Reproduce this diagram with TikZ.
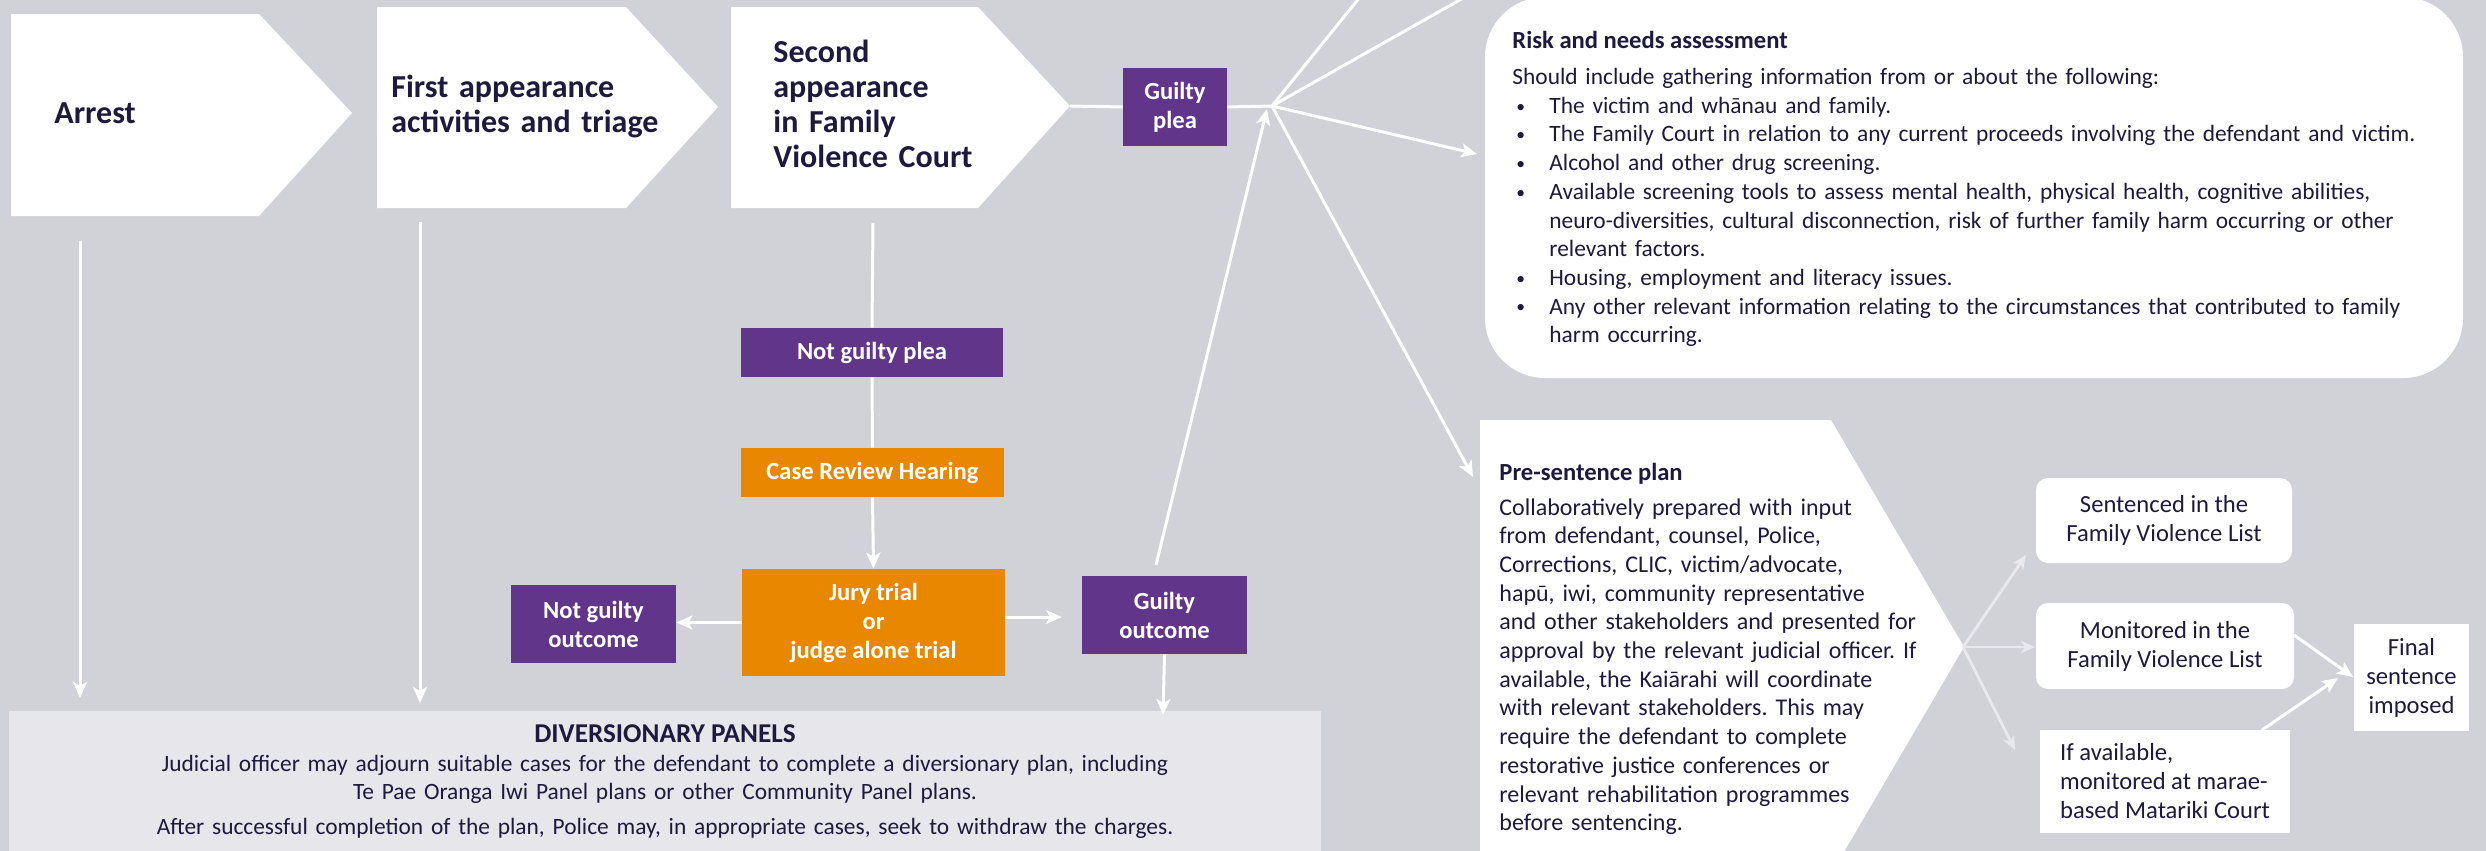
\documentclass[tikz,border=0pt]{standalone}
\usepackage{fontspec}
\setmainfont{Carlito}
\frenchspacing
\usetikzlibrary{arrows.meta}
\definecolor{bgc}{HTML}{D1D2D8}
\definecolor{ink}{HTML}{1E1A3C}
\definecolor{fvpurple}{HTML}{61358A}
\definecolor{fvorange}{HTML}{E98800}
\definecolor{panelc}{HTML}{E6E6EB}
\definecolor{fanc}{HTML}{E9E9ED}
\newcommand{\fsbody}{\fontsize{12pt}{14.35pt}\selectfont}
\newcommand{\fssmall}{\fontsize{11.7pt}{14.35pt}\selectfont}
\newcommand{\fsbox}{\fontsize{12.3pt}{14.5pt}\selectfont}
\newcommand{\fschev}{\fontsize{16pt}{17.5pt}\selectfont\bfseries}
\newcommand{\rbul}{\hspace*{2pt}\makebox[16.5pt][l]{\raisebox{0.6pt}{\scalebox{0.75}{\textbullet}}}}
\newcommand{\rind}{\hspace*{18.5pt}}
\begin{document}
\begin{tikzpicture}[x=0.5pt,y=-0.5pt,
  wline/.style={draw=white, line width=1.5pt},
  warrow/.style={wline, -{Stealth[length=8pt,width=7pt,inset=2pt]}},
  fanarrow/.style={draw=fanc, line width=1.4pt, -{Stealth[length=7pt,width=6pt,inset=2pt]}},
  chev/.style={fill=white},
  chevtext/.style={anchor=base west, inner sep=0pt, text width=150pt, align=left, text=ink, font=\fschev},
  pbox/.style={fill=fvpurple, text=white, font=\fsbox\bfseries, align=center, inner sep=0pt},
  obox/.style={fill=fvorange, text=white, font=\fsbox\bfseries, align=center, inner sep=0pt},
  wbox/.style={fill=white, text=ink, font=\fsbox, align=center, inner sep=0pt},
  bodytext/.style={inner sep=0pt, text=ink, font=\fsbody, align=left, anchor=base west},
]
\useasboundingbox (0,0) rectangle (2486,851);
\clip (0,0) rectangle (2486,851);
\fill[bgc] (0,0) rectangle (2486,851);

% chevrons
\fill[chev] (11,14) -- (259,14) -- (352,113) -- (259,216) -- (11,216) -- cycle;
\fill[chev] (377,7) -- (626,7) -- (718,107) -- (626,208) -- (377,208) -- cycle;
\fill[chev] (731,7) -- (978,7) -- (1070,106) -- (978,208) -- (731,208) -- cycle;
\node[chevtext] (arrest) at (54,123) {Arrest};
\node[chevtext] (first) at (391,97) {First appearance\\activities and triage};
\node[chevtext] (second) at (773,62) {Second\\appearance\\in Family\\Violence Court};
\coordinate (sectip) at (1070,106);
\coordinate (arrestbot) at (80,241);
\coordinate (firstbot) at (420,222);
\coordinate (secbot) at (873,223);

% diversion panel
\fill[panelc] (9,711) rectangle (1321,880);
\node[anchor=base, inner sep=0pt, text=ink, font=\fontsize{13.6pt}{14pt}\selectfont\bfseries] (divtitle) at (665,742) {DIVERSIONARY PANELS};
\node[anchor=base, inner sep=0pt, text=ink, font=\fssmall, text width=600pt, align=center] (divtext) at (665,771)
  {Judicial officer may adjourn suitable cases for the defendant to complete a diversionary plan, including\\
   Te Pae Oranga Iwi Panel plans or other Community Panel plans.\\[3pt]
   After successful completion of the plan, Police may, in appropriate cases, seek to withdraw the charges.};

% middle boxes
\node[pbox, minimum width=52pt, minimum height=39pt] (gplea) at (1175,107) {Guilty\\plea};
\node[pbox, minimum width=131pt, minimum height=24.5pt] (ngplea) at (872,352.5) {Not guilty plea};
\node[obox, minimum width=131.5pt, minimum height=24.5pt] (crh) at (872.5,472.5) {Case Review Hearing};
\node[obox, minimum width=131.5pt, minimum height=53.5pt] (jury) at (873.5,622.5) {Jury trial\\or\\judge alone trial};
\node[pbox, minimum width=82.5pt, minimum height=39pt] (ngout) at (593.5,624) {Not guilty\\outcome};
\node[pbox, minimum width=82.5pt, minimum height=39pt] (gout) at (1164.5,615) {Guilty\\outcome};

% risk box
\fill[white, rounded corners=30pt] (1485,-3) rectangle (2463,378);
\node[bodytext, font=\fsbox\bfseries] (risktitle) at (1512,48) {Risk and needs assessment};
\node[bodytext, font=\fssmall, text width=480pt] (risktext) at (1512,84.5)
  {Should include gathering information from or about the following:\\
   \rbul The victim and whānau and family.\\
   \rbul The Family Court in relation to any current proceeds involving the defendant and victim.\\
   \rbul Alcohol and other drug screening.\\
   \rbul Available screening tools to assess mental health, physical health, cognitive abilities,\\
   \rind neuro-diversities, cultural disconnection, risk of further family harm occurring or other\\
   \rind relevant factors.\\
   \rbul Housing, employment and literacy issues.\\
   \rbul Any other relevant information relating to the circumstances that contributed to family\\
   \rind harm occurring.};

% pre-sentence plan
\fill[white] (1480,420) -- (1831,420) -- (1964,647) -- (1831,874) -- (1480,874) -- cycle;
\coordinate (pstip) at (1963,647);
\node[bodytext, font=\fsbox\bfseries] (pstitle) at (1499,480) {Pre-sentence plan};
\node[bodytext, text width=230pt] (pstext) at (1499,515)
  {Collaboratively prepared with input\\
   from defendant, counsel, Police,\\
   Corrections, CLIC, victim/advocate,\\
   hapū, iwi, community representative\\
   and other stakeholders and presented for\\
   approval by the relevant judicial officer. If\\
   available, the Kaiārahi will coordinate\\
   with relevant stakeholders. This may\\
   require the defendant to complete\\
   restorative justice conferences or\\
   relevant rehabilitation programmes\\
   before sentencing.};

% right boxes
\node[wbox, rounded corners=6pt, minimum width=128pt, minimum height=42.5pt] (sent) at (2164,520.5) {Sentenced in the\\Family Violence List};
\node[wbox, rounded corners=6pt, minimum width=129pt, minimum height=43pt] (mon) at (2165,646) {Monitored in the\\Family Violence List};
\node[wbox, align=left, minimum width=125pt, minimum height=51.5pt] (matariki) at (2165,781.5) {If available,\\monitored at marae-\\based Matariki Court};
\node[wbox, minimum width=57.5pt, minimum height=53.5pt] (final) at (2411.5,677.5) {Final\\sentence\\imposed};

% connectors
\coordinate (hub) at (1272,106);
\coordinate (up1) at (1360,-3);
\coordinate (up2) at (1465,-3);
\coordinate (riskin) at (1477,154);
\coordinate (psin) at (1473,477);
\coordinate (hubin) at (1267,109);
\coordinate (goutup) at (1156,565);
\coordinate (goutin) at (1062,617);
\coordinate (divin) at (1163,715);
\coordinate (arrestend) at (80,698);
\coordinate (firstend) at (420,703);
\coordinate (sentin) at (2026,555);
\coordinate (monin) at (2035,647);
\coordinate (matin) at (2015,750);
\coordinate (monout) at (2294,635);
\coordinate (matout) at (2262,730);
\coordinate (finin1) at (2353,677);
\coordinate (finin2) at (2338,678);

\draw[wline] (sectip) -- (gplea.west);
\draw[wline] (gplea.east) -- (hub);
\draw[wline] (hub) -- (up1);
\draw[wline] (hub) -- (up2);
\draw[warrow] (hub) -- (riskin);
\draw[warrow] (hub) -- (psin);
\draw[warrow] (goutup) -- (hubin);

\draw[warrow] (arrestbot) -- (arrestend);
\draw[warrow] (firstbot) -- (firstend);
\draw[wline] (secbot) -- (ngplea.north);
\draw[wline] (ngplea.south) -- (crh.north);
\draw[warrow] (crh.south) -- (jury.north);
\draw[warrow] (jury.west) -- (jury.west -| ngout.east);
\draw[warrow] (jury.east |- goutin) -- (goutin);
\draw[warrow] (gout.south) -- (divin);

\draw[fanarrow] (pstip) -- (sentin);
\draw[fanarrow] (pstip) -- (monin);
\draw[fanarrow] (pstip) -- (matin);
\draw[warrow] (monout) -- (finin1);
\draw[warrow] (matout) -- (finin2);
\end{tikzpicture}
\end{document}
